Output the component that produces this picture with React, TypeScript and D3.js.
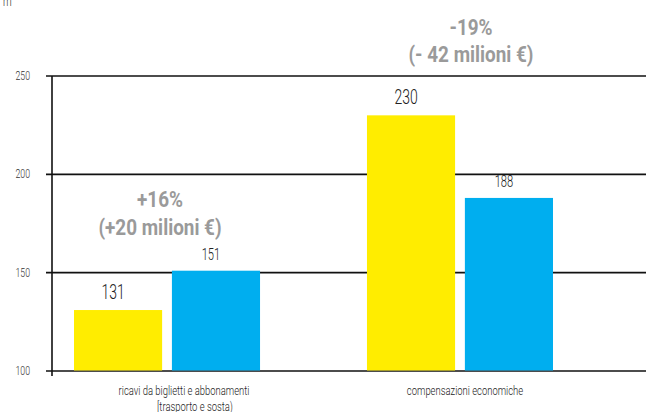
import React from "react";
import * as d3 from "d3";

const categories = ["ricavi da biglietti e abbonamenti|[trasporto e sosta)", "compensazioni economiche"];
const seriesKeys = ["prima", "dopo"];
const seriesColors = ["#FFED00", "#00AEEF"];
const valuesPrima = [131, 230];
const valuesDopo = [151, 188];
const yTicks = [100, 150, 200, 250];
const changePct = ["+16%", "-19%"];
const changeEuro = ["(+20 milioni €)", "(- 42 milioni €)"];
const unitLabel = "m";

const W = 646;
const H = 412;
const FONT = "Roboto, 'Liberation Sans', sans-serif";
const SX = 0.7;

function CText({ x, y, size, anchor = "middle", weight = 400, fill = "#222", children, sx = SX }: any) {
  return (
    <text
      transform={`translate(${x},${y}) scale(${sx},1)`}
      fontFamily={FONT}
      fontSize={size}
      fontWeight={weight}
      fill={fill}
      textAnchor={anchor}
    >
      {children}
    </text>
  );
}

export default function App() {
  const y = d3.scaleLinear().domain([100, 250]).range([371, 76]);
  const x0 = d3.scaleBand().domain(categories).range([74, 553]).paddingInner(0.365).paddingOuter(0);
  const x1 = d3.scaleBand().domain(seriesKeys).range([0, x0.bandwidth()]).paddingInner(0.1);
  const axisX = 52;
  const data = categories.map((c, i) => ({ c, vals: [valuesPrima[i], valuesDopo[i]] }));
  const labelSizes = [20, 16];
  const annot = [
    { dx: -7, y1: 207, y2: 235 },
    { dx: 11, y1: 35, y2: 62 },
  ];

  return (
    <svg width={W} height={H} style={{ position: "absolute", left: 0, top: 0, background: "#fff" }}>
      <CText x={3} y={6} size={14} anchor="start" weight={300}>{unitLabel}</CText>
      {yTicks.map((t) => (
        <g key={t}>
          <line x1={axisX - 6} x2={W} y1={y(t)} y2={y(t)} stroke="#111" strokeWidth={1.6} />
          <CText x={30} y={y(t) + 4} size={12.5} anchor="end" fill="#333" weight={300}>{t}</CText>
        </g>
      ))}
      <line x1={axisX} x2={axisX} y1={y(250)} y2={y(100) + 5} stroke="#111" strokeWidth={1.6} />
      {data.map((d) => (
        <g key={d.c}>
          {d.vals.map((v, j) => {
            const bx = (x0(d.c) as number) + (x1(seriesKeys[j]) as number);
            const bw = x1.bandwidth();
            return (
              <g key={j}>
                <rect x={bx} y={y(v)} width={bw} height={y(100) - y(v) - 0.5} fill={seriesColors[j]} />
                <CText x={bx + bw / 2 - 5} y={y(v) - 11} size={labelSizes[j]} fill="#222" weight={300}>{v}</CText>
              </g>
            );
          })}
        </g>
      ))}
      {data.map((d, i) => {
        const cx = (x0(d.c) as number) + x0.bandwidth() / 2;
        const lines = d.c.split("|");
        const a = annot[i];
        return (
          <g key={"l" + i}>
            {lines.map((ln, k) => (
              <CText key={k} x={cx + (i === 0 ? 17 : 5) + (k === 1 ? 11 : 0)} y={395 + k * 16} size={13.5} fill="#222" weight={300}>{ln}</CText>
            ))}
            <CText x={cx + a.dx} y={a.y1} size={22} weight={700} fill="#9a9a9a" sx={0.86}>{changePct[i]}</CText>
            <CText x={cx + a.dx} y={a.y2} size={22} weight={700} fill="#9a9a9a" sx={0.86}>{changeEuro[i]}</CText>
          </g>
        );
      })}
    </svg>
  );
}
